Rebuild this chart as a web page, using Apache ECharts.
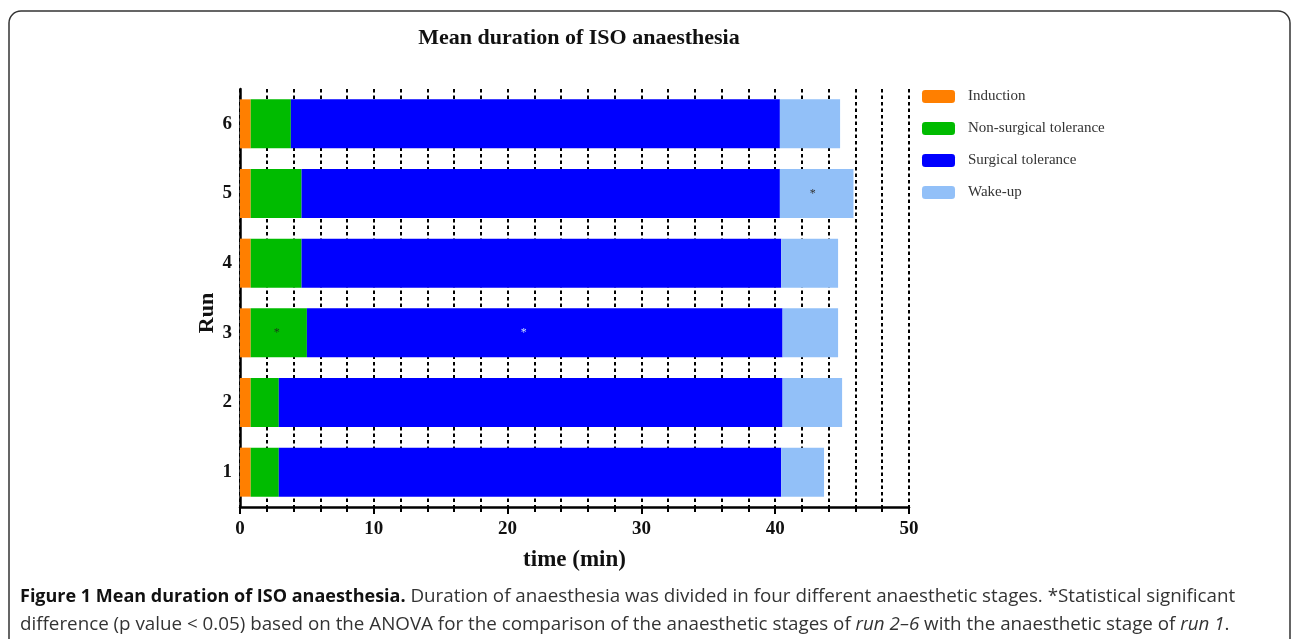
<!DOCTYPE html>
<html><head><meta charset="utf-8">
<script src="https://cdn.jsdelivr.net/npm/echarts@6/dist/echarts.min.js"></script>
<style>html,body{margin:0;padding:0;background:#fff}#c{width:1292px;height:639px}</style>
</head><body><div id="c"></div>
<script>
const runs = ['1','2','3','4','5','6'];
const induction = [0.8, 0.8, 0.8, 0.8, 0.8, 0.8];
const nonSurgical = [2.1, 2.1, 4.2, 3.8, 3.8, 3.0];
const surgical = [37.55, 37.65, 35.55, 35.85, 35.75, 36.55];
const wakeUp = [3.2, 4.45, 4.15, 4.25, 5.5, 4.5];
const sigNonSurgical = [false, false, true, false, false, false];
const sigSurgical = [false, false, true, false, false, false];
const sigWakeUp = [false, false, false, false, true, false];
const xTicks = [0, 10, 20, 30, 40, 50];

const serif = '"Liberation Serif", "DejaVu Serif", serif';
const sans = '"Open Sans", sans-serif';
const chart = echarts.init(document.getElementById('c'));

function withStars(values, sig, color, offset) {
  return values.map((v, i) => sig[i] ? {
    value: v,
    label: {show: true, formatter: '*', position: 'inside', color: color, fontSize: 12, fontFamily: serif, offset: offset}
  } : v);
}

const barBase = {type: 'bar', stack: 'total', barWidth: 49, barGap: 0};
chart.setOption({
  animation: false,
  title: {
    text: 'Mean duration of ISO anaesthesia',
    left: 574, top: 22, textAlign: 'center',
    textStyle: {fontFamily: serif, fontSize: 22, fontWeight: 'bold', color: '#111'}
  },
  legend: {
    orient: 'vertical', left: 922, top: 89, padding: 0,
    itemWidth: 33, itemHeight: 13, itemGap: 17,
    icon: 'roundRect',
    textStyle: {fontFamily: serif, fontSize: 15, color: '#333', padding: [0, 0, 0, 8]},
    data: ['Induction', 'Non-surgical tolerance', 'Surgical tolerance', 'Wake-up']
  },
  grid: {left: 240, right: 383, top: 89, bottom: 132},
  xAxis: {
    type: 'value', min: xTicks[0], max: xTicks[xTicks.length - 1], interval: 10,
    name: 'time (min)', nameLocation: 'middle', nameGap: 42,
    nameTextStyle: {fontFamily: serif, fontSize: 23, fontWeight: 'bold', color: '#111'},
    axisLine: {show: true, lineStyle: {color: '#000', width: 2.5}},
    axisTick: {show: true, length: 7, lineStyle: {color: '#000', width: 2}},
    minorTick: {show: true, splitNumber: 5, length: 5, lineStyle: {color: '#000', width: 2}},
    axisLabel: {fontFamily: serif, fontSize: 19, fontWeight: 'bold', color: '#111', margin: 13},
    splitLine: {show: true, lineStyle: {color: '#000', width: 2, type: [3.5, 3]}},
    minorSplitLine: {show: true, lineStyle: {color: '#000', width: 2, type: [3.5, 3]}}
  },
  yAxis: {
    type: 'category', data: runs,
    axisLine: {show: true, lineStyle: {color: '#000', width: 2.5}},
    axisTick: {show: false},
    axisLabel: {fontFamily: serif, fontSize: 19, fontWeight: 'bold', color: '#111', margin: 8}
  },
  series: [
    Object.assign({}, barBase, {name: 'Induction', data: induction, itemStyle: {color: '#ff7f00'}}),
    Object.assign({}, barBase, {name: 'Non-surgical tolerance', data: withStars(nonSurgical, sigNonSurgical, '#1a3a1a', [-2, 0]), itemStyle: {color: '#00bb00'}}),
    Object.assign({}, barBase, {name: 'Surgical tolerance', data: withStars(surgical, sigSurgical, '#c8dcff', [-21, 0]), itemStyle: {color: '#0000ff'}}),
    Object.assign({}, barBase, {name: 'Wake-up', data: withStars(wakeUp, sigWakeUp, '#333', [-4, 0]), itemStyle: {color: '#92c0f8'}})
  ],
  graphic: [
    {type: 'rect', shape: {x: 9, y: 11, width: 1281, height: 700, r: 12}, style: {fill: 'none', stroke: '#333', lineWidth: 1.5}, silent: true},
    {type: 'text', x: 207, y: 313, rotation: Math.PI / 2, style: {
      text: 'Run', align: 'center', verticalAlign: 'middle',
      fontFamily: serif, fontSize: 22, fontWeight: 'bold', fill: '#111'
    }},
    {type: 'text', left: 20, top: 587, style: {
      text: '{b|Figure 1 Mean duration of ISO anaesthesia.} Duration of anaesthesia was divided in four different anaesthetic stages. *Statistical significant',
      rich: {b: {fontFamily: sans, fontSize: 18, fontWeight: 'bold', fill: '#111'}},
      fontFamily: sans, fontSize: 18.8, fill: '#333'
    }},
    {type: 'text', left: 20, top: 615, style: {
      text: 'difference (p value < 0.05) based on the ANOVA for the comparison of the anaesthetic stages of {i|run 2–6} with the anaesthetic stage of {i|run 1}.',
      rich: {i: {fontFamily: sans, fontSize: 18.8, fontStyle: 'italic', fill: '#333'}},
      fontFamily: sans, fontSize: 18.8, fill: '#333'
    }}
  ]
});
</script></body></html>
